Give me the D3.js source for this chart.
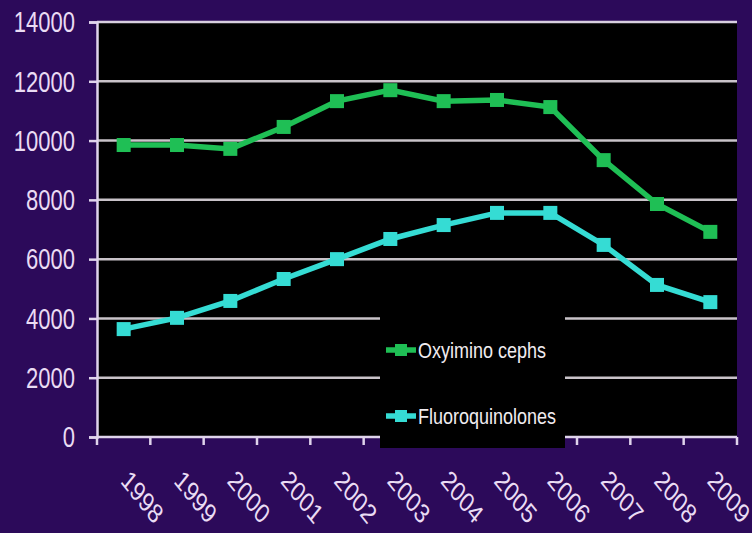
<!DOCTYPE html>
<html>
<head>
<meta charset="utf-8">
<script src="https://cdn.jsdelivr.net/npm/d3@7"></script>
<style>
  html, body { margin: 0; padding: 0; background: #2c0a5a; }
  svg { display: block; }
</style>
</head>
<body>
<div id="chart"></div>
<script>
const years = ["1998","1999","2000","2001","2002","2003","2004","2005","2006","2007","2008","2009"];
const oxyimino = [9850, 9850, 9720, 10460, 11330, 11700, 11330, 11370, 11130, 9340, 7860, 6920];
const fluoro = [3640, 4020, 4590, 5330, 6000, 6680, 7150, 7560, 7560, 6480, 5130, 4550];
const yTicks = [0, 2000, 4000, 6000, 8000, 10000, 12000, 14000];

const width = 752, height = 533;
const margin = {top: 22, right: 15, bottom: 96, left: 97};
const innerW = width - margin.left - margin.right;
const innerH = height - margin.top - margin.bottom;
const font = "'Liberation Sans', Arial, sans-serif";

const svg = d3.select("#chart").append("svg")
    .attr("width", width)
    .attr("height", height);

svg.append("rect")
    .attr("width", width).attr("height", height)
    .attr("fill", "#2c0a5a");

const g = svg.append("g")
    .attr("transform", "translate(" + margin.left + "," + margin.top + ")");

const x = d3.scaleBand().domain(years).range([0, innerW]);
const y = d3.scaleLinear().domain([0, 14000]).range([innerH, 0]);

// plot area
g.append("rect")
    .attr("width", innerW).attr("height", innerH)
    .attr("fill", "#000");

// gridlines
g.selectAll(".grid")
    .data(yTicks.filter(d => d > 0 && d < 14000))
    .enter().append("line")
    .attr("x1", 0).attr("x2", innerW)
    .attr("y1", d => y(d)).attr("y2", d => y(d))
    .attr("stroke", "#c9c3c9").attr("stroke-width", 2.5);

g.append("line")
    .attr("x1", 0).attr("x2", innerW)
    .attr("y1", y(14000)).attr("y2", y(14000))
    .attr("stroke", "#d8cfe0").attr("stroke-width", 2.5);

// y axis
const yAxis = g.append("g")
    .call(d3.axisLeft(y).tickValues(yTicks).tickSize(8).tickPadding(14).tickFormat(d3.format("d")));
yAxis.select(".domain").attr("stroke", "#e0d4ec").attr("stroke-width", 2.5);
yAxis.selectAll(".tick line").attr("stroke", "#e0d4ec").attr("stroke-width", 2.5);
yAxis.selectAll("text")
    .attr("fill", "#eadcf4")
    .attr("dy", "0.34em")
    .attr("transform", "scale(1,1.3)")
    .style("font-family", font)
    .style("font-size", "22px");

// x axis, ticks at category boundaries
const xg = g.append("g").attr("transform", "translate(0," + innerH + ")");
xg.append("line")
    .attr("x1", 0).attr("x2", innerW)
    .attr("stroke", "#e0d4ec").attr("stroke-width", 2.5);
xg.selectAll(".xt")
    .data(d3.range(years.length + 1))
    .enter().append("line")
    .attr("x1", i => i * x.bandwidth()).attr("x2", i => i * x.bandwidth())
    .attr("y1", 0).attr("y2", 8)
    .attr("stroke", "#e0d4ec").attr("stroke-width", 2.5);
xg.selectAll(".xl")
    .data(years)
    .enter().append("text")
    .attr("transform", d => "translate(" + (x(d) + x.bandwidth() / 2 - 4) + ",45) scale(1,1.25) rotate(45)")
    .attr("text-anchor", "start")
    .attr("fill", "#eadcf4")
    .style("font-family", font)
    .style("font-size", "22px")
    .text(d => d);

// legend box, over the grid and axis line
const legend = svg.append("g");
legend.append("rect")
    .attr("x", 380).attr("y", 300)
    .attr("width", 185).attr("height", 148)
    .attr("fill", "#000");

// series
const series = [
    {name: "Oxyimino cephs", values: oxyimino, color: "#1fbf55"},
    {name: "Fluoroquinolones", values: fluoro, color: "#35dcd4"}
];
const line = d3.line()
    .x((d, i) => x(years[i]) + x.bandwidth() / 2)
    .y(d => y(d));

series.forEach(s => {
    const sg = svg.append("g")
        .attr("transform", "translate(" + margin.left + "," + margin.top + ")");
    sg.append("path")
        .datum(s.values)
        .attr("d", line)
        .attr("fill", "none")
        .attr("stroke", s.color)
        .attr("stroke-width", 5.5);
    sg.selectAll("rect")
        .data(s.values)
        .enter().append("rect")
        .attr("x", (d, i) => x(years[i]) + x.bandwidth() / 2 - 7)
        .attr("y", d => y(d) - 7)
        .attr("width", 14).attr("height", 14)
        .attr("fill", s.color);
});

// legend entries
const le = legend.selectAll(".entry")
    .data(series)
    .enter().append("g")
    .attr("transform", (d, i) => "translate(386," + (350 + i * 66) + ")");
le.append("line")
    .attr("x1", 0).attr("x2", 30)
    .attr("stroke", d => d.color).attr("stroke-width", 5.5);
le.append("rect")
    .attr("x", 9).attr("y", -6).attr("width", 12).attr("height", 12)
    .attr("fill", d => d.color);
le.append("text")
    .attr("x", 32).attr("y", 6)
    .attr("transform", "scale(1,1.25)")
    .attr("fill", "#f0ecf0")
    .style("font-family", font)
    .style("font-size", "18px")
    .text(d => d.name);
</script>
</body>
</html>
